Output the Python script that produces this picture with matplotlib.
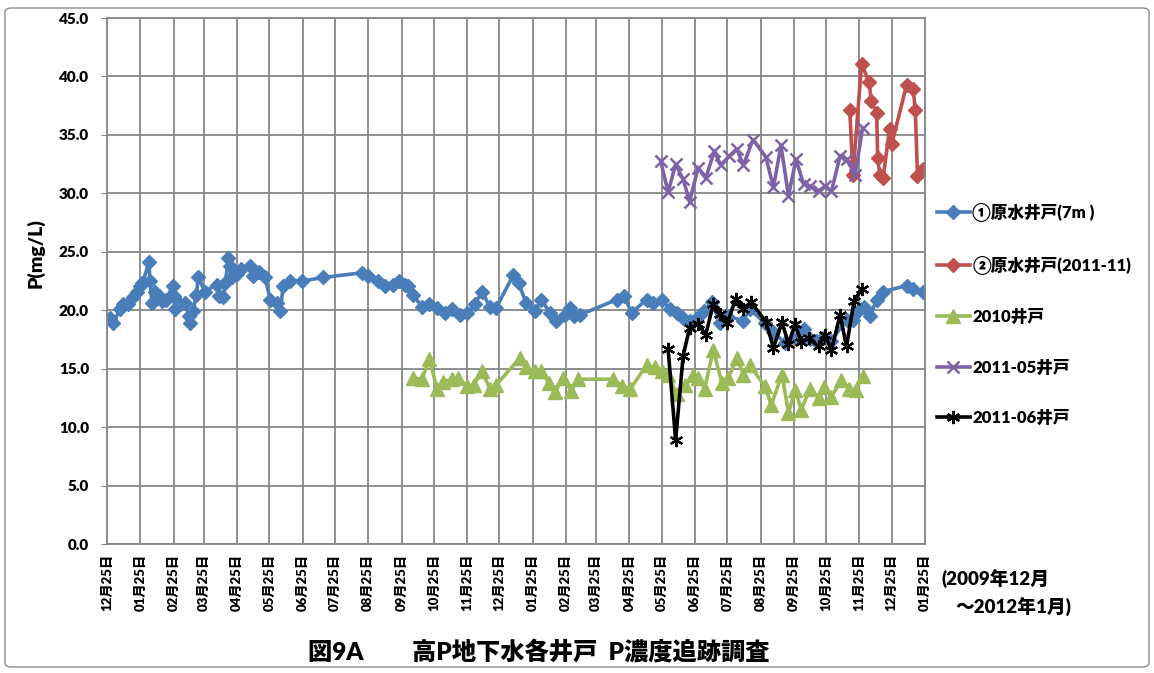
import matplotlib
matplotlib.use("Agg")
import matplotlib.pyplot as plt
import matplotlib.dates as mdates
from matplotlib.patches import FancyBboxPatch
import pandas as pd

plt.rcParams["font.family"] = ["Lato", "Noto Sans CJK JP", "DejaVu Sans"]
plt.rcParams["font.weight"] = "heavy"

# ① raw-water well (7 m)
well1_dates = [
    "2009-12-28", "2009-12-31", "2010-01-06", "2010-01-09", "2010-01-14", "2010-01-18",
    "2010-01-22", "2010-01-25", "2010-01-27", "2010-02-02", "2010-02-03", "2010-02-05",
    "2010-02-08", "2010-02-11", "2010-02-14", "2010-02-18", "2010-02-24", "2010-02-25",
    "2010-02-26", "2010-03-03", "2010-03-08", "2010-03-11", "2010-03-12", "2010-03-15",
    "2010-03-18", "2010-03-20", "2010-03-26", "2010-04-06", "2010-04-08", "2010-04-12",
    "2010-04-14", "2010-04-17", "2010-04-18", "2010-04-20", "2010-04-25", "2010-04-29",
    "2010-05-07", "2010-05-10", "2010-05-15", "2010-05-21", "2010-05-26", "2010-06-01",
    "2010-06-04", "2010-06-07", "2010-06-13", "2010-06-24", "2010-07-14", "2010-08-19",
    "2010-08-25", "2010-09-03", "2010-09-10", "2010-09-17", "2010-09-23", "2010-09-28",
    "2010-10-01", "2010-10-06", "2010-10-14", "2010-10-21", "2010-10-28", "2010-11-04",
    "2010-11-11", "2010-11-18", "2010-11-25", "2010-12-02", "2010-12-09", "2010-12-16",
    "2010-12-22", "2011-01-07", "2011-01-12", "2011-01-19", "2011-01-27", "2011-02-02",
    "2011-02-10", "2011-02-16", "2011-02-24", "2011-03-01", "2011-03-04", "2011-03-10",
    "2011-04-13", "2011-04-20", "2011-04-27", "2011-05-11", "2011-05-17", "2011-05-25",
    "2011-06-02", "2011-06-08", "2011-06-14", "2011-06-20", "2011-06-27", "2011-07-03",
    "2011-07-11", "2011-07-18", "2011-07-25", "2011-08-09", "2011-08-15", "2011-08-29",
    "2011-09-06", "2011-09-17", "2011-09-28", "2011-10-04", "2011-10-10", "2011-10-16",
    "2011-10-22", "2011-10-30", "2011-11-13", "2011-11-19", "2011-11-24", "2011-11-29",
    "2011-12-05", "2011-12-11", "2011-12-17", "2012-01-08", "2012-01-14", "2012-01-23",
]
well1_p = [
    19.3, 18.9, 20.1, 20.5, 20.5, 21.1,
    21.6, 22.1, 22.3, 24.1, 22.5, 20.6,
    21.6, 21.2, 20.8, 20.9, 22.1, 21.2,
    20.1, 20.5, 20.6, 19.5, 18.9, 19.9,
    21.3, 22.8, 21.6, 22.2, 21.2, 21.1,
    22.3, 24.5, 23.8, 22.8, 23.1, 23.5,
    23.8, 22.9, 23.3, 22.8, 20.9, 20.6,
    19.9, 22.1, 22.5, 22.5, 22.8, 23.2,
    22.9, 22.5, 22.1, 22.2, 22.5, 22.2,
    22.1, 21.3, 20.3, 20.5, 20.2, 19.8,
    20.1, 19.6, 19.8, 20.5, 21.6, 20.3,
    20.2, 23.0, 22.3, 20.6, 19.9, 20.9,
    19.8, 19.1, 19.6, 20.2, 19.5, 19.6,
    20.9, 21.2, 19.8, 20.9, 20.6, 20.9,
    20.1, 19.8, 19.3, 19.1, 19.3, 19.9,
    20.7, 18.9, 19.5, 19.1, 20.1, 18.9,
    18.1, 17.2, 17.6, 18.4, 17.5, 17.4,
    17.6, 17.4, 19.2, 19.2, 19.9, 20.3,
    19.5, 20.9, 21.6, 22.1, 21.8, 21.6,
]

# ② raw-water well (2011-11)
well2_dates = [
    "2011-11-16", "2011-11-19", "2011-11-27", "2011-12-04", "2011-12-06", "2011-12-11",
    "2011-12-12", "2011-12-14", "2011-12-17", "2011-12-23", "2011-12-25", "2012-01-08",
    "2012-01-14", "2012-01-16", "2012-01-18", "2012-01-23",
]
well2_p = [
    37.1, 31.6, 41.1, 39.5, 37.9, 36.9,
    33.0, 31.6, 31.3, 35.5, 34.2, 39.3,
    38.9, 37.1, 31.5, 32.1,
]

# 2010 well
w2010_dates = [
    "2010-10-06", "2010-10-14", "2010-10-21", "2010-10-28", "2010-11-03", "2010-11-11",
    "2010-11-17", "2010-11-25", "2010-12-01", "2010-12-09", "2010-12-16", "2010-12-22",
    "2011-01-13", "2011-01-19", "2011-01-27", "2011-02-02", "2011-02-09", "2011-02-15",
    "2011-02-22", "2011-03-02", "2011-03-08", "2011-04-10", "2011-04-18", "2011-04-26",
    "2011-05-11", "2011-05-19", "2011-05-25", "2011-05-31", "2011-06-08", "2011-06-16",
    "2011-06-23", "2011-06-28", "2011-07-04", "2011-07-12", "2011-07-20", "2011-07-26",
    "2011-08-03", "2011-08-09", "2011-08-15", "2011-08-29", "2011-09-04", "2011-09-14",
    "2011-09-20", "2011-09-26", "2011-10-02", "2011-10-10", "2011-10-18", "2011-10-23",
    "2011-10-30", "2011-11-08", "2011-11-15", "2011-11-22", "2011-11-28",
]
w2010_p = [
    14.2, 14.1, 15.8, 13.3, 13.9, 14.1,
    14.2, 13.5, 13.6, 14.8, 13.3, 13.6,
    15.9, 15.1, 14.8, 14.8, 13.8, 13.0,
    14.2, 13.1, 14.1, 14.1, 13.5, 13.3,
    15.3, 15.1, 14.8, 14.5, 12.8, 13.6,
    14.5, 14.2, 13.3, 16.6, 13.8, 14.2,
    15.9, 14.5, 15.3, 13.5, 11.9, 14.5,
    11.2, 13.2, 11.5, 13.3, 12.5, 13.4,
    12.6, 14.0, 13.3, 13.2, 14.4,
]

# 2011-05 well
w201105_dates = [
    "2011-05-24", "2011-05-31", "2011-06-07", "2011-06-14", "2011-06-20", "2011-06-28",
    "2011-07-05", "2011-07-13", "2011-07-19", "2011-07-27", "2011-08-03", "2011-08-09",
    "2011-08-18", "2011-08-30", "2011-09-06", "2011-09-13", "2011-09-20", "2011-09-27",
    "2011-10-04", "2011-10-10", "2011-10-18", "2011-10-24", "2011-10-30", "2011-11-07",
    "2011-11-13", "2011-11-21", "2011-11-28",
]
w201105_p = [
    32.8, 30.1, 32.5, 31.2, 29.3, 32.2,
    31.3, 33.6, 32.4, 33.2, 33.8, 32.4,
    34.6, 33.1, 30.5, 34.1, 29.8, 32.9,
    30.8, 30.6, 30.2, 30.6, 30.2, 33.2,
    32.9, 31.6, 35.6,
]

# 2011-06 well
w201106_dates = [
    "2011-05-31", "2011-06-07", "2011-06-14", "2011-06-20", "2011-06-28", "2011-07-05",
    "2011-07-12", "2011-07-18", "2011-07-25", "2011-08-02", "2011-08-09", "2011-08-16",
    "2011-08-30", "2011-09-06", "2011-09-14", "2011-09-20", "2011-09-26", "2011-10-02",
    "2011-10-09", "2011-10-18", "2011-10-24", "2011-10-30", "2011-11-07", "2011-11-13",
    "2011-11-20", "2011-11-27",
]
w201106_p = [
    16.7, 8.9, 16.1, 18.5, 18.8, 17.9,
    20.5, 19.7, 18.9, 21.0, 20.1, 20.7,
    19.0, 16.8, 19.0, 17.1, 18.8, 17.3,
    17.6, 16.9, 17.9, 16.6, 19.6, 16.9,
    20.8, 21.8,
]

series_labels = ["①原水井戸(7m )", "②原水井戸(2011-11)", "2010井戸", "2011-05井戸", "2011-06井戸"]
y_ticks = [0, 5, 10, 15, 20, 25, 30, 35, 40, 45]
x_start, x_end = "2009-12-25", "2012-01-25"
title_text = "図9A\u3000\u3000高P地下水各井戸  P濃度追跡調査"
period_text = ["(2009年12月", "～2012年1月)"]

W, H = 1154, 673
fig = plt.figure(figsize=(W / 100, H / 100), dpi=100)
fig.patch.set_facecolor("white")

# chart-area frame
frame = FancyBboxPatch((5 / W, 6 / H), (W - 10) / W, (H - 14) / H,
                       boxstyle="round,pad=0,rounding_size=0.006",
                       transform=fig.transFigure, facecolor="none",
                       edgecolor="#8c8c8c", linewidth=1.0)
fig.patches.append(frame)

ax = fig.add_axes([107 / W, 1 - 544 / H, (925 - 107) / W, (544 - 18) / H])

styles = [
    dict(color="#4a7ebb", marker="D", ms=6.8, mec="#4a7ebb", mfc="#4a7ebb"),
    dict(color="#c0504d", marker="D", ms=6.8, mec="#c0504d", mfc="#c0504d"),
    dict(color="#9bbb59", marker="^", ms=9.5, mec="#9bbb59", mfc="#9bbb59"),
    dict(color="#7f62a6", marker="x", ms=8.0, mew=1.8),
    dict(color="#000000", marker=(6, 2, 0), ms=9.5, mew=1.6),
]
data = [
    (well1_dates, well1_p),
    (well2_dates, well2_p),
    (w2010_dates, w2010_p),
    (w201105_dates, w201105_p),
    (w201106_dates, w201106_p),
]
handles = []
for (d, v), lab, st in zip(data, series_labels, styles):
    h, = ax.plot(pd.to_datetime(d), v, lw=2.6, label=lab, **st)
    handles.append(h)

ax.set_xlim(pd.Timestamp(x_start), pd.Timestamp(x_end))
ax.set_ylim(0, 45)
ax.set_yticks(y_ticks)
ax.yaxis.set_major_formatter(plt.FuncFormatter(lambda v, p: f"{v:.1f}"))
ax.xaxis.set_major_locator(mdates.MonthLocator(bymonthday=25))
ax.xaxis.set_major_formatter(mdates.DateFormatter("%m月%d日"))

ax.grid(True, color="#878787", lw=1.3)
ax.set_axisbelow(True)
for s in ax.spines.values():
    s.set_color("#878787")
    s.set_linewidth(1.3)

ax.tick_params(axis="y", length=4, color="#878787", pad=9, labelsize=11)
ax.tick_params(axis="x", length=0, pad=7, labelsize=9.5)
for t in ax.get_xticklabels():
    t.set_rotation(90)
    t.set_fontweight("heavy")
for t in ax.get_yticklabels():
    t.set_fontweight("heavy")

fig.text(36 / W, 1 - 253 / H, "P(mg/L)", rotation=90, ha="center", va="center",
         fontsize=14, fontweight="heavy")

fig.text(942 / W, 1 - 578 / H, period_text[0], ha="left", va="center",
         fontsize=13.5, fontweight="heavy")
fig.text(955 / W, 1 - 606 / H, period_text[1], ha="left", va="center",
         fontsize=13.5, fontweight="heavy")

fig.text(308 / W, 1 - 652 / H, title_text, ha="left", va="center",
         fontsize=17.5, fontweight="heavy")

fig.legend(handles=handles, loc="upper left", bbox_to_anchor=(930 / W, 1 - 196 / H),
           frameon=False, handlelength=2.0, handletextpad=0.15,
           labelspacing=2.05, borderaxespad=0, prop={"weight": "heavy", "size": 12})

fig.savefig("out.png", dpi=100, facecolor="white")
